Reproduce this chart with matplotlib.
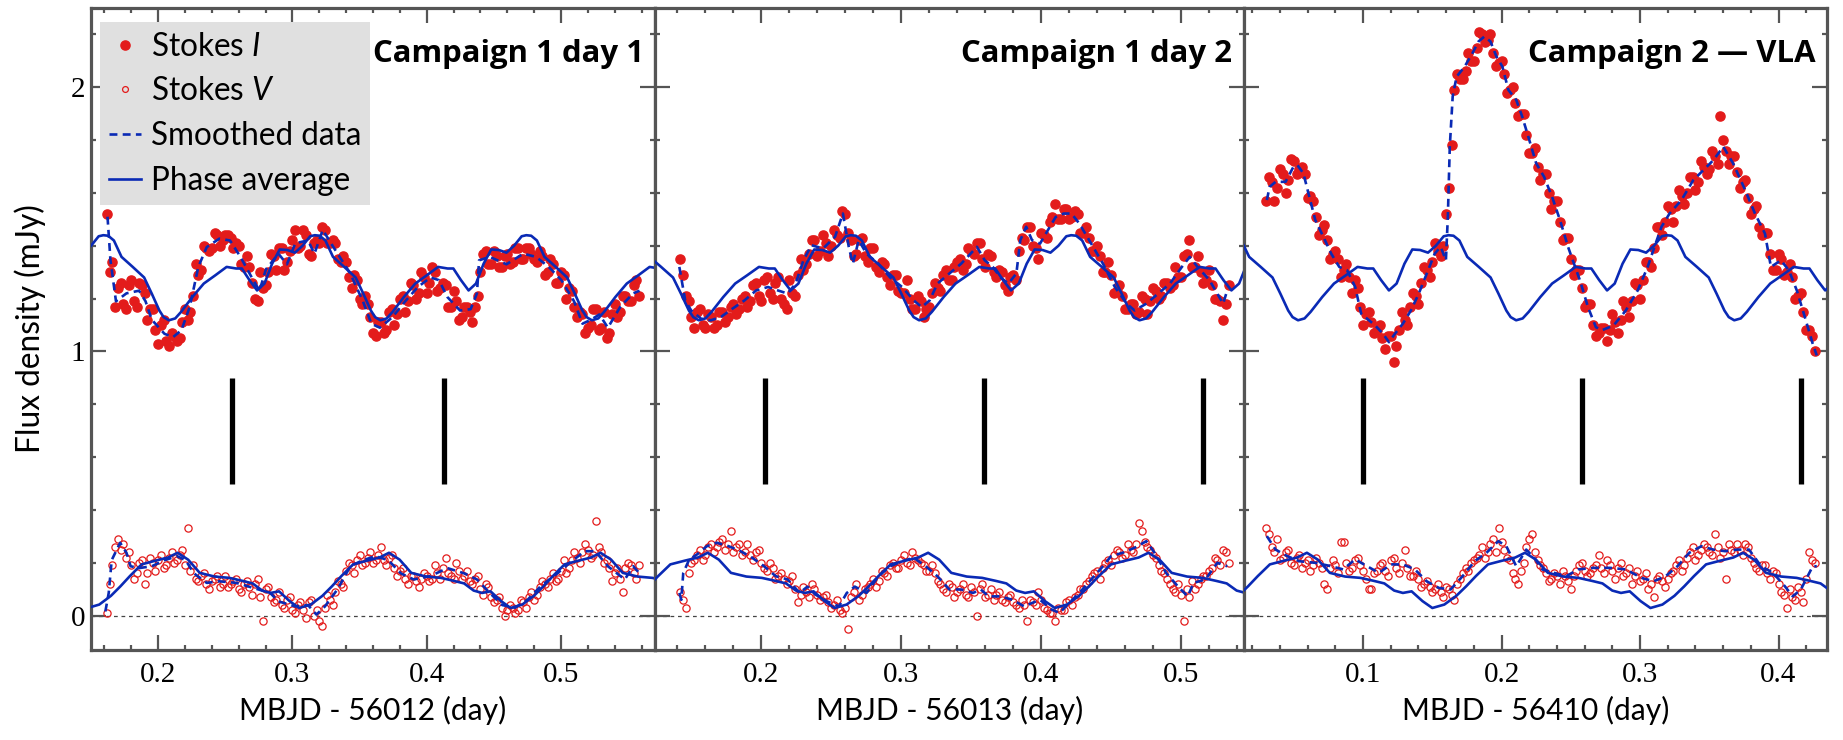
import numpy as np
import matplotlib
matplotlib.use("Agg")
import matplotlib.pyplot as plt
from matplotlib.lines import Line2D
from matplotlib.ticker import MultipleLocator

plt.rcParams['font.family'] = ['Lato', 'DejaVu Sans']
plt.rcParams['mathtext.fontset'] = 'custom'
plt.rcParams['mathtext.rm'] = 'Lato'
plt.rcParams['mathtext.it'] = 'Lato:italic'
plt.rcParams['mathtext.bf'] = 'Lato:bold'

RED = '#e31b1b'
BLUE = '#0a2ab5'
AXIS_GREY = '#555555'
TICK_FONT = 'Liberation Serif'
TITLE_FONT = ['Open Sans', 'Lato', 'DejaVu Sans']

# ---------------------------------------------------------------- ephemeris
PERIOD = 0.1575          # days
I_MIN_LAG = -0.047       # Stokes I minimum relative to marked epoch (days)
V_MIN_LAG = 0.050        # Stokes V minimum relative to marked epoch (days)

# phase-folded average profiles (phase measured from the profile minimum)
I_PHASE = [0.000, 0.030, 0.058, 0.111, 0.165, 0.219, 0.273, 0.318, 0.345, 0.381,
           0.417, 0.452, 0.488, 0.524, 0.560, 0.596, 0.632, 0.668, 0.690, 0.713,
           0.740, 0.776, 0.829, 0.883, 0.919, 0.955, 0.975]
I_PROFILE = [1.118, 1.125, 1.150, 1.206, 1.257, 1.288, 1.320, 1.314, 1.314, 1.270,
             1.231, 1.257, 1.332, 1.386, 1.384, 1.374, 1.400, 1.436, 1.440, 1.438,
             1.420, 1.358, 1.320, 1.280, 1.219, 1.155, 1.130]
V_PHASE = [0.000, 0.055, 0.110, 0.155, 0.200, 0.255, 0.320, 0.380, 0.425, 0.475,
           0.530, 0.600, 0.670, 0.730, 0.780, 0.825, 0.865, 0.905, 0.955]
V_PROFILE = [0.029, 0.042, 0.075, 0.111, 0.150, 0.194, 0.208, 0.220, 0.238, 0.212,
             0.162, 0.148, 0.143, 0.132, 0.122, 0.095, 0.086, 0.092, 0.055]

# ---------------------------------------------------------------- campaign 1, day 1
DAY1 = 56012
XLIM1 = (0.150, 0.570)
BARS1 = [0.255, 0.413]
T1 = np.linspace(0.162, 0.558, 100)
I1 = [1.52, 1.34, 1.24, 1.18, 1.25, 1.19, 1.26, 1.22, 1.16, 1.08,
      1.10, 1.04, 1.07, 1.04, 1.11, 1.12, 1.21, 1.29, 1.40, 1.38,
      1.45, 1.40, 1.44, 1.43, 1.41, 1.33, 1.36, 1.26, 1.19, 1.24,
      1.30, 1.36, 1.39, 1.31, 1.38, 1.46, 1.40, 1.44, 1.36, 1.42,
      1.47, 1.41, 1.42, 1.35, 1.36, 1.28, 1.29, 1.20, 1.21, 1.13,
      1.06, 1.11, 1.08, 1.16, 1.14, 1.21, 1.19, 1.25, 1.22, 1.28,
      1.26, 1.30, 1.24, 1.25, 1.17, 1.19, 1.13, 1.17, 1.11, 1.21,
      1.37, 1.33, 1.38, 1.32, 1.36, 1.33, 1.39, 1.35, 1.39, 1.37,
      1.34, 1.36, 1.30, 1.33, 1.26, 1.29, 1.24, 1.17, 1.15, 1.07,
      1.10, 1.16, 1.09, 1.05, 1.14, 1.13, 1.21, 1.19, 1.25, 1.21]
V1 = [0.01, 0.19, 0.29, 0.27, 0.24, 0.14, 0.20, 0.12, 0.22, 0.17,
      0.23, 0.19, 0.24, 0.21, 0.25, 0.33, 0.19, 0.13, 0.16, 0.10,
      0.14, 0.11, 0.15, 0.12, 0.14, 0.09, 0.13, 0.08, 0.14, -0.02,
      0.11, 0.05, 0.09, 0.03, 0.07, 0.01, 0.05, -0.01, 0.06, 0.02,
      -0.04, 0.08, 0.04, 0.13, 0.11, 0.20, 0.16, 0.23, 0.20, 0.24,
      0.21, 0.26, 0.19, 0.23, 0.15, 0.18, 0.12, 0.15, 0.11, 0.16,
      0.13, 0.19, 0.14, 0.22, 0.15, 0.20, 0.14, 0.17, 0.12, 0.15,
      0.08, 0.11, 0.05, 0.07, 0.00, 0.04, 0.01, 0.06, 0.03, 0.09,
      0.08, 0.13, 0.11, 0.16, 0.14, 0.21, 0.18, 0.24, 0.20, 0.27,
      0.22, 0.36, 0.24, 0.21, 0.13, 0.18, 0.09, 0.20, 0.16, 0.19]
T1B = np.linspace(0.164, 0.556, 99)
I1B = [1.30, 1.17, 1.26, 1.16, 1.27, 1.17, 1.25, 1.12, 1.16, 1.03,
       1.12, 1.02, 1.06, 1.05, 1.16, 1.15, 1.33, 1.31, 1.39, 1.39,
       1.44, 1.42, 1.44, 1.39, 1.40, 1.32, 1.32, 1.20, 1.30, 1.25,
       1.37, 1.31, 1.39, 1.34, 1.42, 1.39, 1.46, 1.37, 1.41, 1.41,
       1.46, 1.41, 1.41, 1.34, 1.34, 1.24, 1.27, 1.18, 1.18, 1.07,
       1.11, 1.07, 1.15, 1.10, 1.20, 1.15, 1.26, 1.20, 1.30, 1.22,
       1.32, 1.23, 1.26, 1.17, 1.23, 1.12, 1.17, 1.15, 1.17, 1.30,
       1.38, 1.33, 1.36, 1.32, 1.37, 1.34, 1.39, 1.35, 1.39, 1.35,
       1.38, 1.29, 1.35, 1.26, 1.30, 1.20, 1.23, 1.13, 1.14, 1.09,
       1.16, 1.08, 1.15, 1.07, 1.18, 1.15, 1.21, 1.19, 1.27]
V1B = [0.12, 0.26, 0.25, 0.22, 0.19, 0.16, 0.21, 0.16, 0.20, 0.21,
       0.18, 0.22, 0.20, 0.23, 0.19, 0.17, 0.14, 0.15, 0.12, 0.13,
       0.15, 0.12, 0.11, 0.13, 0.10, 0.12, 0.11, 0.12, 0.07, 0.10,
       0.07, 0.06, 0.04, 0.06, 0.02, 0.04, 0.02, 0.05, 0.00, -0.02,
       0.03, 0.06, 0.09, 0.12, 0.17, 0.19, 0.21, 0.19, 0.22, 0.20,
       0.23, 0.21, 0.22, 0.18, 0.17, 0.14, 0.15, 0.13, 0.14, 0.15,
       0.14, 0.16, 0.18, 0.16, 0.14, 0.17, 0.15, 0.13, 0.14, 0.10,
       0.12, 0.07, 0.06, 0.03, 0.02, 0.03, 0.02, 0.05, 0.07, 0.06,
       0.11, 0.12, 0.14, 0.13, 0.17, 0.16, 0.21, 0.22, 0.24, 0.25,
       0.23, 0.26, 0.20, 0.18, 0.16, 0.14, 0.18, 0.19, 0.14]
SI1_T = [0.1623, 0.1645, 0.1686, 0.1764, 0.1858, 0.1906, 0.1953, 0.2047, 0.2110, 0.2173,
         0.2236, 0.2299, 0.2362, 0.2456, 0.2535, 0.2613, 0.2708, 0.2755, 0.2802, 0.2896,
         0.2959, 0.3022, 0.3116, 0.3164, 0.3226, 0.3305, 0.3431, 0.3525, 0.3588, 0.3651,
         0.3745, 0.3840, 0.3934, 0.4028, 0.4091, 0.4154, 0.4248, 0.4327, 0.4374, 0.4390,
         0.4469, 0.4594, 0.4720, 0.4814, 0.4909, 0.5003, 0.5097, 0.5160, 0.5223, 0.5286,
         0.5349, 0.5443, 0.5538, 0.5585]
SI1 = [1.51, 1.345, 1.19, 1.22, 1.23, 1.19, 1.12, 1.067, 1.054, 1.08,
       1.17, 1.32, 1.395, 1.427, 1.42, 1.358, 1.27, 1.23, 1.31, 1.37,
       1.33, 1.41, 1.42, 1.37, 1.46, 1.395, 1.295, 1.19, 1.105, 1.09,
       1.13, 1.19, 1.244, 1.28, 1.27, 1.206, 1.155, 1.16, 1.22, 1.345,
       1.358, 1.33, 1.37, 1.358, 1.32, 1.27, 1.19, 1.105, 1.12, 1.14,
       1.09, 1.17, 1.22, 1.23]
SV1_T = [0.1607, 0.1632, 0.1654, 0.1717, 0.1764, 0.1795, 0.1858, 0.1953, 0.2047, 0.2142,
         0.2204, 0.2267, 0.2362, 0.2456, 0.2582, 0.2708, 0.2834, 0.2896, 0.3022, 0.3116,
         0.3179, 0.3242, 0.3336, 0.3431, 0.3525, 0.3619, 0.3714, 0.3808, 0.3903, 0.4028,
         0.4154, 0.4280, 0.4374, 0.4469, 0.4563, 0.4657, 0.4751, 0.4846, 0.4972, 0.5066,
         0.5176, 0.5255, 0.5349, 0.5475, 0.5538, 0.5585]
SV1 = [0.016, 0.086, 0.21, 0.276, 0.238, 0.187, 0.18, 0.187, 0.21, 0.225,
       0.21, 0.16, 0.124, 0.13, 0.124, 0.105, 0.086, 0.054, 0.035, 0.04,
       0.004, 0.035, 0.1, 0.187, 0.21, 0.225, 0.21, 0.16, 0.137, 0.15,
       0.18, 0.16, 0.137, 0.086, 0.04, 0.03, 0.06, 0.11, 0.16, 0.2,
       0.244, 0.244, 0.187, 0.137, 0.187, 0.16]

# ---------------------------------------------------------------- campaign 1, day 2
DAY2 = 56013
XLIM2 = (0.124, 0.545)
BARS2 = [0.2023, 0.3592, 0.516]
T2 = np.linspace(0.142, 0.534, 99)
I2 = [1.35, 1.21, 1.13, 1.15, 1.10, 1.14, 1.09, 1.15, 1.11, 1.17,
      1.14, 1.20, 1.17, 1.25, 1.21, 1.27, 1.22, 1.26, 1.20, 1.16,
      1.22, 1.29, 1.31, 1.37, 1.42, 1.38, 1.41, 1.40, 1.44, 1.53,
      1.45, 1.36, 1.42, 1.36, 1.39, 1.32, 1.34, 1.28, 1.29, 1.23,
      1.22, 1.20, 1.16, 1.19, 1.16, 1.22, 1.24, 1.29, 1.27, 1.32,
      1.35, 1.33, 1.38, 1.41, 1.35, 1.37, 1.30, 1.31, 1.25, 1.28,
      1.27, 1.43, 1.47, 1.40, 1.35, 1.44, 1.49, 1.56, 1.50, 1.54,
      1.51, 1.52, 1.45, 1.43, 1.38, 1.36, 1.30, 1.29, 1.23, 1.21,
      1.16, 1.18, 1.15, 1.20, 1.19, 1.23, 1.21, 1.26, 1.25, 1.28,
      1.36, 1.42, 1.32, 1.30, 1.27, 1.25, 1.20, 1.12, 1.25]
V2 = [0.09, 0.03, 0.20, 0.23, 0.21, 0.26, 0.24, 0.28, 0.25, 0.32,
      0.26, 0.23, 0.27, 0.21, 0.25, 0.18, 0.20, 0.14, 0.16, 0.12,
      0.15, 0.05, 0.11, 0.07, 0.10, 0.06, 0.08, 0.03, 0.06, 0.01,
      -0.05, 0.09, 0.06, 0.10, 0.12, 0.11, 0.17, 0.15, 0.20, 0.18,
      0.23, 0.19, 0.22, 0.20, 0.17, 0.19, 0.13, 0.10, 0.12, 0.07,
      0.10, 0.08, 0.11, 0.00, 0.12, 0.08, 0.06, 0.09, 0.05, 0.08,
      0.04, 0.06, -0.02, 0.05, 0.09, 0.03, 0.01, -0.02, 0.02, 0.05,
      0.04, 0.08, 0.10, 0.13, 0.16, 0.14, 0.20, 0.19, 0.25, 0.22,
      0.27, 0.24, 0.35, 0.28, 0.25, 0.22, 0.17, 0.14, 0.10, 0.12,
      -0.02, 0.07, 0.10, 0.14, 0.15, 0.18, 0.21, 0.25, 0.20]
T2B = np.linspace(0.144, 0.532, 98)
I2B = [1.29, 1.19, 1.09, 1.16, 1.09, 1.13, 1.10, 1.15, 1.13, 1.18,
       1.16, 1.21, 1.19, 1.26, 1.19, 1.28, 1.20, 1.28, 1.18, 1.27,
       1.21, 1.35, 1.33, 1.42, 1.36, 1.44, 1.36, 1.46, 1.43, 1.52,
       1.42, 1.37, 1.43, 1.34, 1.39, 1.30, 1.33, 1.25, 1.29, 1.22,
       1.27, 1.16, 1.21, 1.13, 1.17, 1.26, 1.23, 1.31, 1.27, 1.34,
       1.31, 1.39, 1.37, 1.41, 1.32, 1.36, 1.28, 1.30, 1.23, 1.29,
       1.38, 1.42, 1.47, 1.39, 1.45, 1.43, 1.51, 1.50, 1.54, 1.50,
       1.53, 1.45, 1.47, 1.38, 1.40, 1.30, 1.34, 1.22, 1.25, 1.16,
       1.18, 1.14, 1.21, 1.14, 1.24, 1.20, 1.26, 1.24, 1.32, 1.28,
       1.37, 1.32, 1.36, 1.26, 1.31, 1.20, 1.19, 1.18]
V2B = [0.06, 0.16, 0.21, 0.25, 0.23, 0.27, 0.26, 0.29, 0.27, 0.24,
       0.27, 0.24, 0.23, 0.24, 0.20, 0.17, 0.18, 0.15, 0.14, 0.13,
       0.10, 0.08, 0.09, 0.12, 0.08, 0.07, 0.05, 0.04, 0.02, 0.03,
       0.07, 0.12, 0.08, 0.11, 0.14, 0.13, 0.16, 0.19, 0.18, 0.21,
       0.20, 0.24, 0.21, 0.19, 0.17, 0.16, 0.12, 0.09, 0.11, 0.09,
       0.12, 0.07, 0.09, 0.10, 0.07, 0.10, 0.08, 0.06, 0.07, 0.05,
       0.03, 0.04, 0.06, 0.04, 0.06, 0.02, 0.01, 0.03, 0.02, 0.06,
       0.07, 0.10, 0.12, 0.15, 0.17, 0.18, 0.21, 0.23, 0.24, 0.23,
       0.25, 0.27, 0.32, 0.26, 0.23, 0.19, 0.16, 0.12, 0.09, 0.08,
       0.10, 0.13, 0.12, 0.15, 0.17, 0.22, 0.19, 0.24]
SI2_T = [0.1414, 0.1456, 0.1499, 0.1569, 0.1639, 0.1710, 0.1794, 0.1879, 0.1963, 0.2048,
         0.2118, 0.2189, 0.2245, 0.2301, 0.2358, 0.2442, 0.2527, 0.2583, 0.2625, 0.2654,
         0.2696, 0.2752, 0.2837, 0.2921, 0.3006, 0.3090, 0.3146, 0.3203, 0.3259, 0.3344,
         0.3428, 0.3485, 0.3541, 0.3597, 0.3654, 0.3710, 0.3766, 0.3823, 0.3851, 0.3893,
         0.3935, 0.3992, 0.4048, 0.4104, 0.4161, 0.4217, 0.4273, 0.4358, 0.4442, 0.4527,
         0.4611, 0.4668, 0.4752, 0.4837, 0.4921, 0.5006, 0.5062, 0.5118, 0.5203, 0.5259,
         0.5301, 0.5330]
SI2 = [1.32, 1.193, 1.155, 1.124, 1.118, 1.13, 1.162, 1.193, 1.231, 1.244,
       1.231, 1.219, 1.257, 1.345, 1.402, 1.39, 1.434, 1.522, 1.396, 1.332,
       1.421, 1.37, 1.332, 1.28, 1.244, 1.193, 1.168, 1.193, 1.257, 1.295,
       1.332, 1.364, 1.396, 1.345, 1.32, 1.28, 1.257, 1.295, 1.421, 1.472,
       1.421, 1.408, 1.459, 1.509, 1.522, 1.522, 1.484, 1.408, 1.332, 1.244,
       1.181, 1.155, 1.181, 1.219, 1.257, 1.32, 1.358, 1.32, 1.27, 1.219,
       1.181, 1.231]
SV2_T = [0.1414, 0.1428, 0.1442, 0.1485, 0.1541, 0.1611, 0.1682, 0.1766, 0.1851, 0.1935,
         0.2020, 0.2104, 0.2189, 0.2273, 0.2330, 0.2386, 0.2470, 0.2555, 0.2611, 0.2668,
         0.2752, 0.2837, 0.2921, 0.3006, 0.3090, 0.3175, 0.3259, 0.3344, 0.3428, 0.3513,
         0.3569, 0.3625, 0.3710, 0.3794, 0.3879, 0.3935, 0.3992, 0.4076, 0.4132, 0.4189,
         0.4273, 0.4358, 0.4442, 0.4499, 0.4583, 0.4668, 0.4752, 0.4808, 0.4893, 0.4977,
         0.5048, 0.5090, 0.5175, 0.5259, 0.5330]
SV2 = [0.086, 0.06, 0.162, 0.213, 0.232, 0.263, 0.276, 0.263, 0.244, 0.219,
       0.187, 0.149, 0.137, 0.086, 0.11, 0.08, 0.054, 0.035, 0.086, 0.11,
       0.086, 0.149, 0.187, 0.206, 0.219, 0.187, 0.149, 0.099, 0.099, 0.086,
       0.099, 0.073, 0.073, 0.06, 0.035, 0.048, 0.06, 0.023, 0.01, 0.042,
       0.086, 0.137, 0.187, 0.225, 0.238, 0.257, 0.282, 0.24, 0.162, 0.111,
       0.073, 0.124, 0.137, 0.2, 0.187]

# ---------------------------------------------------------------- campaign 2 (VLA)
DAY3 = 56410
XLIM3 = (0.014, 0.435)
BARS3 = [0.100, 0.258, 0.416]
T3 = np.linspace(0.030, 0.426, 100)
I3 = [1.57, 1.64, 1.62, 1.67, 1.65, 1.72, 1.69, 1.67, 1.59, 1.51,
      1.46, 1.42, 1.37, 1.35, 1.31, 1.28, 1.27, 1.17, 1.14, 1.11,
      1.08, 1.05, 1.06, 0.96, 1.08, 1.12, 1.17, 1.21, 1.26, 1.31,
      1.34, 1.38, 1.40, 1.62, 1.99, 2.03, 2.06, 2.10, 2.15, 2.20,
      2.18, 2.13, 2.09, 2.05, 1.99, 1.94, 1.90, 1.82, 1.75, 1.70,
      1.67, 1.60, 1.57, 1.49, 1.43, 1.35, 1.31, 1.24, 1.18, 1.10,
      1.07, 1.09, 1.08, 1.11, 1.12, 1.17, 1.19, 1.25, 1.27, 1.34,
      1.39, 1.47, 1.49, 1.54, 1.55, 1.59, 1.60, 1.66, 1.64, 1.70,
      1.69, 1.74, 1.89, 1.76, 1.74, 1.68, 1.64, 1.58, 1.54, 1.47,
      1.45, 1.37, 1.31, 1.35, 1.30, 1.28, 1.21, 1.15, 1.08, 1.00]
V3 = [0.33, 0.26, 0.29, 0.22, 0.25, 0.19, 0.23, 0.20, 0.17, 0.22,
      0.18, 0.10, 0.21, 0.16, 0.28, 0.17, 0.21, 0.19, 0.14, 0.10,
      0.17, 0.20, 0.15, 0.22, 0.16, 0.25, 0.15, 0.17, 0.11, 0.13,
      0.09, 0.12, 0.07, 0.10, 0.06, 0.14, 0.18, 0.20, 0.22, 0.26,
      0.24, 0.29, 0.33, 0.25, 0.21, 0.14, 0.17, 0.26, 0.31, 0.21,
      0.18, 0.13, 0.16, 0.12, 0.15, 0.10, 0.17, 0.20, 0.15, 0.18,
      0.23, 0.16, 0.19, 0.14, 0.20, 0.16, 0.12, 0.17, 0.14, 0.10,
      0.07, 0.15, 0.11, 0.16, 0.19, 0.17, 0.22, 0.26, 0.23, 0.27,
      0.24, 0.31, 0.22, 0.14, 0.25, 0.27, 0.23, 0.26, 0.20, 0.17,
      0.19, 0.14, 0.16, 0.09, 0.03, 0.07, 0.11, 0.05, 0.24, 0.20]
T3B = np.linspace(0.032, 0.424, 99)
I3B = [1.66, 1.57, 1.69, 1.60, 1.73, 1.67, 1.70, 1.58, 1.57, 1.44,
       1.48, 1.35, 1.38, 1.28, 1.33, 1.22, 1.24, 1.10, 1.15, 1.07,
       1.10, 1.01, 1.06, 1.02, 1.15, 1.10, 1.22, 1.18, 1.32, 1.28,
       1.41, 1.36, 1.52, 1.78, 2.05, 2.03, 2.13, 2.10, 2.21, 2.17,
       2.20, 2.08, 2.10, 1.98, 2.00, 1.89, 1.90, 1.75, 1.77, 1.65,
       1.67, 1.54, 1.57, 1.42, 1.43, 1.29, 1.31, 1.17, 1.18, 1.06,
       1.09, 1.04, 1.14, 1.07, 1.19, 1.13, 1.26, 1.20, 1.34, 1.32,
       1.47, 1.44, 1.55, 1.49, 1.61, 1.56, 1.66, 1.61, 1.72, 1.67,
       1.76, 1.71, 1.80, 1.71, 1.74, 1.62, 1.65, 1.52, 1.55, 1.44,
       1.45, 1.31, 1.37, 1.29, 1.33, 1.20, 1.22, 1.08, 1.06]
V3B = [0.31, 0.24, 0.21, 0.24, 0.20, 0.22, 0.18, 0.21, 0.19, 0.20,
       0.12, 0.18, 0.19, 0.28, 0.20, 0.18, 0.22, 0.17, 0.10, 0.16,
       0.19, 0.17, 0.21, 0.18, 0.20, 0.18, 0.15, 0.14, 0.12, 0.11,
       0.10, 0.09, 0.11, 0.08, 0.12, 0.16, 0.17, 0.21, 0.23, 0.22,
       0.27, 0.24, 0.28, 0.22, 0.16, 0.12, 0.20, 0.29, 0.24, 0.19,
       0.16, 0.14, 0.15, 0.17, 0.13, 0.15, 0.19, 0.17, 0.16, 0.19,
       0.18, 0.21, 0.17, 0.18, 0.15, 0.18, 0.15, 0.13, 0.16, 0.12,
       0.14, 0.13, 0.14, 0.17, 0.21, 0.19, 0.24, 0.21, 0.25, 0.26,
       0.23, 0.26, 0.24, 0.27, 0.24, 0.25, 0.27, 0.22, 0.18, 0.19,
       0.16, 0.17, 0.12, 0.08, 0.10, 0.06, 0.09, 0.14, 0.21]
SI3_T = [0.0305, 0.0325, 0.0368, 0.0440, 0.0497, 0.0526, 0.0569, 0.0612, 0.0655, 0.0713,
         0.0770, 0.0828, 0.0885, 0.0943, 0.0986, 0.1029, 0.1086, 0.1144, 0.1187, 0.1230,
         0.1287, 0.1345, 0.1402, 0.1460, 0.1517, 0.1560, 0.1598, 0.1612, 0.1626, 0.1647,
         0.1675, 0.1733, 0.1790, 0.1833, 0.1876, 0.1920, 0.1963, 0.2006, 0.2049, 0.2106,
         0.2149, 0.2193, 0.2250, 0.2307, 0.2365, 0.2422, 0.2480, 0.2523, 0.2566, 0.2624,
         0.2681, 0.2724, 0.2810, 0.2897, 0.2983, 0.3055, 0.3112, 0.3155, 0.3213, 0.3299,
         0.3385, 0.3457, 0.3529, 0.3601, 0.3672, 0.3759, 0.3830, 0.3902, 0.3945, 0.4017,
         0.4075, 0.4132, 0.4190, 0.4247, 0.4276]
SI3 = [1.573, 1.623, 1.642, 1.642, 1.699, 1.705, 1.674, 1.585, 1.497, 1.434,
       1.37, 1.32, 1.307, 1.244, 1.143, 1.124, 1.099, 1.067, 1.035, 1.067,
       1.105, 1.155, 1.219, 1.295, 1.37, 1.396, 1.345, 1.509, 1.775, 1.965,
       2.04, 2.078, 2.129, 2.173, 2.192, 2.173, 2.116, 2.078, 1.99, 1.952,
       1.889, 1.813, 1.712, 1.661, 1.585, 1.497, 1.396, 1.332, 1.269, 1.168,
       1.092, 1.08, 1.099, 1.155, 1.231, 1.32, 1.408, 1.472, 1.522, 1.573,
       1.649, 1.686, 1.724, 1.775, 1.712, 1.611, 1.522, 1.446, 1.32, 1.345,
       1.307, 1.231, 1.13, 1.029, 0.985]
SV3_T = [0.0305, 0.0368, 0.0454, 0.0540, 0.0655, 0.0770, 0.0856, 0.0943, 0.1029, 0.1115,
         0.1201, 0.1287, 0.1374, 0.1460, 0.1546, 0.1632, 0.1718, 0.1805, 0.1891, 0.1977,
         0.2034, 0.2106, 0.2178, 0.2236, 0.2293, 0.2379, 0.2466, 0.2552, 0.2667, 0.2782,
         0.2897, 0.3011, 0.3098, 0.3184, 0.3270, 0.3356, 0.3443, 0.3529, 0.3615, 0.3701,
         0.3787, 0.3874, 0.3960, 0.4046, 0.4103, 0.4161, 0.4247, 0.4276]
SV3 = [0.301, 0.25, 0.225, 0.206, 0.2, 0.187, 0.175, 0.213, 0.187, 0.162,
       0.194, 0.194, 0.175, 0.13, 0.105, 0.099, 0.149, 0.206, 0.238, 0.282,
       0.263, 0.187, 0.25, 0.219, 0.175, 0.162, 0.149, 0.175, 0.181, 0.181,
       0.175, 0.143, 0.13, 0.149, 0.187, 0.238, 0.263, 0.25, 0.244, 0.25,
       0.25, 0.187, 0.162, 0.111, 0.073, 0.099, 0.187, 0.187]

TITLES = ['Campaign 1 day 1', 'Campaign 1 day 2', 'Campaign 2 \u2014 VLA']
YLIM = (-0.13, 2.30)

PANELS = [
    dict(day=DAY1, xlim=XLIM1, bars=BARS1,
         obs=[(T1, I1, V1), (T1B, I1B, V1B)],
         si_t=SI1_T, si=SI1, sv_t=SV1_T, sv=SV1, title=TITLES[0]),
    dict(day=DAY2, xlim=XLIM2, bars=BARS2,
         obs=[(T2, I2, V2), (T2B, I2B, V2B)],
         si_t=SI2_T, si=SI2, sv_t=SV2_T, sv=SV2, title=TITLES[1]),
    dict(day=DAY3, xlim=XLIM3, bars=BARS3,
         obs=[(T3, I3, V3), (T3B, I3B, V3B)],
         si_t=SI3_T, si=SI3, sv_t=SV3_T, sv=SV3, title=TITLES[2]),
]


def folded_curve(epoch, phases, values, lo, hi):
    """Repeat one phase-averaged cycle over the time span [lo, hi]."""
    ts, ys = [], []
    k0 = int(np.floor((lo - epoch) / PERIOD)) - 1
    k1 = int(np.ceil((hi - epoch) / PERIOD)) + 1
    for k in range(k0, k1 + 1):
        for p, v in zip(phases, values):
            ts.append(epoch + (k + p) * PERIOD)
            ys.append(v)
    return ts, ys


W, H = 1843, 740
fig = plt.figure(figsize=(W / 100, H / 100), dpi=100)
edges = [(91, 655), (655, 1244), (1244, 1827)]
top_px, bot_px = 8, 650

axes, titles, xlabels = [], [], []
for i, (pan, (x0, x1)) in enumerate(zip(PANELS, edges)):
    ax = fig.add_axes([x0 / W, (H - bot_px) / H, (x1 - x0) / W, (bot_px - top_px) / H])
    axes.append(ax)
    lo, hi = pan['xlim']

    ax.axhline(0, color='#444444', lw=0.9, ls=(0, (3, 3)), zorder=1)
    ax.vlines(pan['bars'], 0.5, 0.9, color='black', lw=3.8, zorder=2)

    for t, si, sv in pan['obs']:
        ax.plot(t, si, ls='none', marker='o', ms=6.6, color=RED, mec=RED, zorder=3)
        ax.plot(t, sv, ls='none', marker='o', ms=5.2, mfc='none', mec=RED,
                mew=0.9, zorder=3)

    ax.plot(pan['si_t'], pan['si'], color=BLUE, lw=1.9, ls=(0, (3, 2)), zorder=4)
    ax.plot(pan['sv_t'], pan['sv'], color=BLUE, lw=1.9, ls=(0, (3, 2)), zorder=4)

    ti, yi = folded_curve(pan['bars'][0] + I_MIN_LAG, I_PHASE, I_PROFILE, lo, hi)
    tv, yv = folded_curve(pan['bars'][0] + V_MIN_LAG, V_PHASE, V_PROFILE, lo, hi)
    ax.plot(ti, yi, color=BLUE, lw=1.9, zorder=5)
    ax.plot(tv, yv, color=BLUE, lw=1.9, zorder=5)

    ax.set_xlim(lo, hi)
    ax.set_ylim(*YLIM)
    ax.xaxis.set_major_locator(MultipleLocator(0.1))
    ax.xaxis.set_minor_locator(MultipleLocator(0.02))
    ax.yaxis.set_major_locator(MultipleLocator(1.0))
    ax.yaxis.set_minor_locator(MultipleLocator(0.2))
    ax.xaxis.set_major_formatter(plt.FuncFormatter(lambda v, _: f'{v:.1f}'))
    ax.yaxis.set_major_formatter(plt.FuncFormatter(lambda v, _: f'{v:.0f}'))
    ax.tick_params(which='both', direction='in', top=True, right=True,
                   color=AXIS_GREY, width=1.6)
    ax.tick_params(which='major', length=11, labelsize=21, pad=9)
    ax.tick_params(axis='y', which='major', pad=4)
    ax.tick_params(which='minor', length=3.6)
    if i > 0:
        ax.tick_params(labelleft=False)
    for lab in ax.get_xticklabels() + ax.get_yticklabels():
        lab.set_fontfamily(TICK_FONT)
    for sp in ax.spines.values():
        sp.set_color(AXIS_GREY)
        sp.set_linewidth(2.3)

    xlabels.append(ax.set_xlabel(f'MBJD - {pan["day"]} (day)', fontsize=23, labelpad=5))
    titles.append(ax.text(0.98, 0.916, pan['title'], transform=ax.transAxes, ha='right',
                          va='baseline', fontsize=21, fontweight='bold',
                          family=TITLE_FONT, zorder=6))

ylabel = fig.text(30 / W, (H - (top_px + bot_px) / 2) / H, 'Flux density (mJy)',
                  rotation=90, ha='center', va='center', fontsize=23)

# size the texts so that they span the intended number of pixels
fig.canvas.draw()
renderer = fig.canvas.get_renderer()


def scaled_size(txt, target_px, vertical=False):
    bb = txt.get_window_extent(renderer)
    span = bb.height if vertical else bb.width
    return txt.get_fontsize() * target_px / span


title_size = scaled_size(titles[0], 272)
for t in titles:
    t.set_fontsize(title_size)
label_size = scaled_size(xlabels[0], 268)
for t in xlabels:
    t.set_fontsize(label_size)
ylabel.set_fontsize(scaled_size(ylabel, 249, vertical=True))

probe = fig.text(0, 0, 'Smoothed data', fontsize=23)
legend_size = scaled_size(probe, 211)
probe.remove()

handles = [
    Line2D([], [], ls='none', marker='o', ms=6.6, color=RED),
    Line2D([], [], ls='none', marker='o', ms=4.2, mfc='none', mec=RED, mew=0.9),
    Line2D([], [], color=BLUE, lw=1.9, ls=(0, (3, 2))),
    Line2D([], [], color=BLUE, lw=1.9),
]
labels = ['Stokes $I$', 'Stokes $V$', 'Smoothed data', 'Phase average']


def make_legend(spacing):
    return axes[0].legend(handles, labels, loc='upper left',
                          bbox_to_anchor=(0.016, 0.978), borderaxespad=0,
                          frameon=True, fancybox=False, framealpha=1,
                          facecolor='#e0e0e0', edgecolor='none',
                          fontsize=legend_size, handlelength=1.0,
                          handletextpad=0.3, labelspacing=spacing, borderpad=0.3)


leg = make_legend(0.3)
fig.canvas.draw()
box_h = leg.get_window_extent(renderer).height
em_px = legend_size * 100 / 72
spacing = 0.3 + (183 - box_h) / (3 * em_px)
leg.remove()
leg = make_legend(spacing)
leg.set_zorder(10)

fig.savefig('out.png', dpi=100)
